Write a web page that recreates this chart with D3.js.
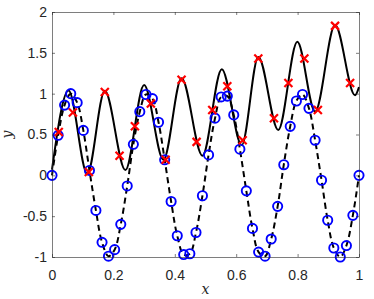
<!DOCTYPE html>
<html>
<head>
<meta charset="utf-8">
<script src="https://cdn.jsdelivr.net/npm/d3@7"></script>
<style>
    body { margin: 0; background: #fff; }
    svg { display: block; }
</style>
</head>
<body>
<div id="chart"></div>
<script>
//Data
const xTicks = [0, 0.2, 0.4, 0.6, 0.8, 1];
const xTickLabels = ["0", "0.2", "0.4", "0.6", "0.8", "1"];
const yTicks = [-1, -0.5, 0, 0.5, 1, 1.5, 2];
const yTickLabels = ["-1", "-0.5", "0", "0.5", "1", "1.5", "2"];

//Blue circles (on the dashed curve)
const circleX = [0, 0.020, 0.041, 0.061, 0.082, 0.102, 0.122, 0.143, 0.163, 0.184,
    0.204, 0.224, 0.245, 0.265, 0.286, 0.306, 0.327, 0.347, 0.367, 0.388,
    0.408, 0.429, 0.449, 0.469, 0.490, 0.510, 0.531, 0.551, 0.571, 0.592,
    0.612, 0.633, 0.653, 0.673, 0.694, 0.714, 0.735, 0.755, 0.776, 0.796,
    0.816, 0.837, 0.857, 0.878, 0.898, 0.918, 0.939, 0.959, 0.980, 1];
const circleY = [0, 0.49, 0.86, 1.00, 0.89, 0.55, 0.06, -0.43, -0.82, -0.99,
    -0.91, -0.60, -0.13, 0.38, 0.78, 0.99, 0.94, 0.65, 0.19, -0.32,
    -0.74, -0.97, -0.96, -0.70, -0.25, 0.25, 0.70, 0.96, 0.97, 0.74,
    0.32, -0.19, -0.65, -0.94, -0.99, -0.78, -0.38, 0.13, 0.60, 0.91,
    0.99, 0.82, 0.43, -0.06, -0.55, -0.89, -1.00, -0.86, -0.49, 0];

//Solid curve (start, peaks, troughs, end)
const solidX = [0, 0.054, 0.115, 0.172, 0.239, 0.300, 0.363, 0.422, 0.490,
    0.553, 0.618, 0.672, 0.737, 0.799, 0.857, 0.922, 0.987, 1];
const solidY = [0.07, 1.04, 0.02, 1.035, 0.065, 1.105, 0.19, 1.19, 0.24,
    1.30, 0.37, 1.45, 0.555, 1.635, 0.78, 1.84, 0.98, 1.08];

//Red crosses (on the solid curve)
const crossX = [0.022, 0.068, 0.120, 0.172, 0.220, 0.270, 0.322, 0.370, 0.422, 0.471,
    0.522, 0.571, 0.621, 0.672, 0.723, 0.770, 0.822, 0.866, 0.922, 0.971];
const crossY = [0.53, 0.77, 0.04, 1.02, 0.24, 0.60, 0.88, 0.19, 1.17, 0.41,
    0.80, 1.09, 0.43, 1.43, 0.70, 1.13, 1.43, 0.80, 1.83, 1.13];

//Setup Dimensions
const width = 374;
const height = 299;
const margin = { top: 12, right: 15, bottom: 42, left: 52 };
const innerW = width - margin.left - margin.right;
const innerH = height - margin.top - margin.bottom;
const font = "'Liberation Sans', Arial, Helvetica, sans-serif";
const axisColor = "#262626";

const svg = d3.select("#chart")
    .append("svg")
    .attr("width", width)
    .attr("height", height);

const g = svg.append("g")
    .attr("transform", `translate(${margin.left},${margin.top})`);

const x = d3.scaleLinear().domain([0, 1]).range([0, innerW]);
const y = d3.scaleLinear().domain([-1, 2]).range([innerH, 0]);

//Lines
const solidData = solidX.map((d, i) => ({ x: d, y: solidY[i] }));
const circleData = circleX.map((d, i) => ({ x: d, y: circleY[i] }));
const crossData = crossX.map((d, i) => ({ x: d, y: crossY[i] }));

const solidLine = d3.line()
    .x(d => x(d.x))
    .y(d => y(d.y))
    .curve(d3.curveMonotoneX);

const dashedLine = d3.line()
    .x(d => x(d.x))
    .y(d => y(d.y))
    .curve(d3.curveCatmullRom.alpha(0.5));

g.append("path")
    .datum(solidData)
    .attr("fill", "none")
    .attr("stroke", "#000")
    .attr("stroke-width", 2)
    .attr("d", solidLine);

g.append("path")
    .datum(circleData)
    .attr("fill", "none")
    .attr("stroke", "#000")
    .attr("stroke-width", 2)
    .attr("stroke-dasharray", "6,4")
    .attr("d", dashedLine);

//Markers
g.selectAll(".circ")
    .data(circleData)
    .enter().append("circle")
    .attr("class", "circ")
    .attr("cx", d => x(d.x))
    .attr("cy", d => y(d.y))
    .attr("r", 4.6)
    .attr("fill", "none")
    .attr("stroke", "#0000ff")
    .attr("stroke-width", 1.9);

const s = 4;
g.selectAll(".cross")
    .data(crossData)
    .enter().append("path")
    .attr("class", "cross")
    .attr("d", d => {
        const cx = x(d.x), cy = y(d.y);
        return `M${cx - s},${cy - s}L${cx + s},${cy + s}M${cx - s},${cy + s}L${cx + s},${cy - s}`;
    })
    .attr("stroke", "#ff0000")
    .attr("stroke-width", 2.2)
    .attr("fill", "none");

//Axes (ticks inside, box on all four sides)
function styleAxis(sel) {
    sel.selectAll("path.domain").attr("stroke", axisColor).attr("stroke-width", 0.6);
    sel.selectAll(".tick line").attr("stroke", axisColor).attr("stroke-width", 0.6);
    sel.selectAll("text")
        .attr("fill", axisColor)
        .style("font-family", font)
        .style("font-size", "14px");
}

g.append("g")
    .attr("transform", `translate(0,${innerH})`)
    .call(d3.axisBottom(x).tickValues(xTicks).tickFormat((d, i) => xTickLabels[i])
        .tickSizeInner(-3).tickSizeOuter(0).tickPadding(13))
    .call(styleAxis);

g.append("g")
    .call(d3.axisLeft(y).tickValues(yTicks).tickFormat((d, i) => yTickLabels[i])
        .tickSizeInner(-3).tickSizeOuter(0).tickPadding(5))
    .call(styleAxis);

g.append("g")
    .call(d3.axisTop(x).tickValues(xTicks).tickFormat("")
        .tickSizeInner(-3).tickSizeOuter(0))
    .call(styleAxis);

g.append("g")
    .attr("transform", `translate(${innerW},0)`)
    .call(d3.axisRight(y).tickValues(yTicks).tickFormat("")
        .tickSizeInner(-3).tickSizeOuter(0))
    .call(styleAxis);

//Axis labels (LaTeX-like italic)
svg.append("text")
    .attr("x", margin.left + innerW / 2)
    .attr("y", 294)
    .attr("text-anchor", "middle")
    .attr("fill", axisColor)
    .style("font-family", "'DejaVu Serif', 'Liberation Serif', serif")
    .style("font-style", "italic")
    .style("font-size", "14px")
    .text("x");

svg.append("text")
    .attr("transform", `translate(12,${margin.top + innerH / 2}) rotate(-90)`)
    .attr("text-anchor", "middle")
    .attr("fill", axisColor)
    .style("font-family", "'DejaVu Serif', 'Liberation Serif', serif")
    .style("font-style", "italic")
    .style("font-size", "14px")
    .text("y");
</script>
</body>
</html>
